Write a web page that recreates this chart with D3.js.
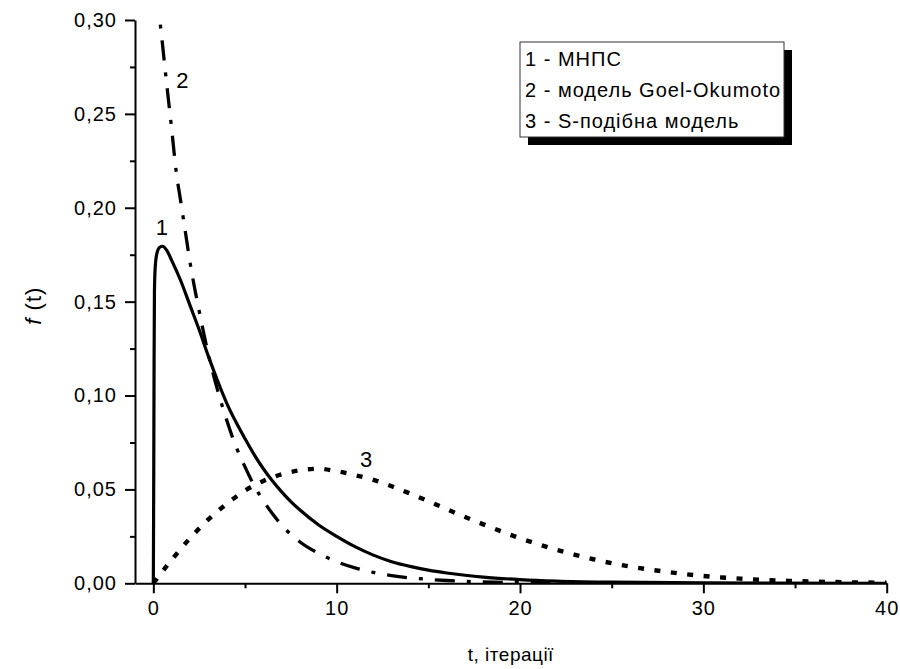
<!DOCTYPE html>
<html>
<head>
<meta charset="utf-8">
<script src="https://cdn.jsdelivr.net/npm/d3@7"></script>
<style>
  body { margin: 0; background: #fff; }
  svg { display: block; font-family: "Liberation Sans", Arial, sans-serif; }
</style>
</head>
<body>
<svg id="chart"></svg>
<script>
// series 1 - МНПС (solid)
const t1 = [0, 0.02, 0.04, 0.06, 0.1, 0.2, 0.35, 0.5, 0.75, 1.0, 1.5, 2.0, 2.5, 3.0, 3.5, 4.0, 4.5, 5.0, 5.5, 6.0, 6.5, 7.0, 7.5, 8.0, 9.0, 10, 11, 12, 13, 14, 15, 16, 17, 18, 20, 22, 25, 30, 40];
const f1 = [0, 0.05, 0.115, 0.155, 0.168, 0.176, 0.179, 0.1795, 0.177, 0.172, 0.161, 0.148, 0.135, 0.121, 0.108, 0.096, 0.086, 0.077, 0.0685, 0.061, 0.0545, 0.0487, 0.0435, 0.039, 0.0312, 0.025, 0.0195, 0.015, 0.0115, 0.009, 0.007, 0.0055, 0.0043, 0.0033, 0.002, 0.0012, 0.0006, 0.0002, 0];

// series 2 - модель Goel-Okumoto (dash-dot)
const t2 = [0, 0.25, 0.5, 0.75, 1.0, 1.25, 1.5, 1.75, 2.0, 2.5, 3.0, 3.5, 4.0, 4.5, 5.0, 5.5, 6.0, 6.5, 7.0, 8.0, 9.0, 10, 11, 12, 13, 14, 15, 16, 18, 20, 22];
const f2 = [0.34, 0.31, 0.287, 0.264, 0.242, 0.219, 0.203, 0.187, 0.171, 0.145, 0.122, 0.103, 0.087, 0.073, 0.062, 0.052, 0.044, 0.037, 0.031, 0.022, 0.016, 0.0115, 0.0082, 0.0058, 0.0041, 0.0029, 0.0021, 0.0015, 0.0007, 0.0004, 0.0002];

// series 3 - S-подібна модель (dotted)
const t3 = [0, 1, 2, 3, 4, 5, 6, 7, 8, 9, 10, 11, 12, 13, 14, 15, 16, 17, 18, 19, 20, 21, 22, 23, 24, 25, 26, 27, 28, 29, 30, 31, 32, 33, 34, 35, 36, 37, 38, 39, 40];
const f3 = [0, 0.0125, 0.024, 0.034, 0.0423, 0.0494, 0.0545, 0.058, 0.0602, 0.061, 0.0597, 0.0576, 0.0551, 0.0517, 0.0478, 0.0437, 0.0395, 0.0353, 0.0314, 0.0276, 0.024, 0.0208, 0.0178, 0.0152, 0.0128, 0.0107, 0.0089, 0.0074, 0.0061, 0.0049, 0.0039, 0.0031, 0.0025, 0.0019, 0.0015, 0.0012, 0.0009, 0.0007, 0.0005, 0.0004, 0.0003];

const xTicks = [0, 10, 20, 30, 40];
const xMinorTicks = [5, 15, 25, 35];
const yTicks = [0, 0.05, 0.10, 0.15, 0.20, 0.25, 0.30];
const yMinorTicks = [0.025, 0.075, 0.125, 0.175, 0.225, 0.275];

const legendItems = ["1 - МНПС", "2 - модель Goel-Okumoto", "3 - S-подібна модель"];

// curve labels: [text, t, f]
const curveLabels = [["1", 0.47, 0.1856], ["2", 1.59, 0.2639], ["3", 11.6, 0.062]];

const width = 900;
const height = 669;
const margin = { top: 20, right: 13.3, bottom: 85.7, left: 135 };
const innerWidth = width - margin.left - margin.right;
const innerHeight = height - margin.top - margin.bottom;

const svg = d3.select("#chart")
  .attr("width", width)
  .attr("height", height);

const g = svg.append("g")
  .attr("transform", `translate(${margin.left},${margin.top})`);

const x = d3.scaleLinear().domain([-1, 40]).range([0, innerWidth]);
const y = d3.scaleLinear().domain([0, 0.30]).range([innerHeight, 0]);

const commaFmt = v => d3.format(".2f")(v).replace(".", ",");

// clip curves to the plot area
svg.append("defs").append("clipPath").attr("id", "plotClip")
  .append("rect")
  .attr("x", 0).attr("y", 0)
  .attr("width", innerWidth).attr("height", innerHeight);

// curves
const line = d3.line()
  .x(d => x(d[0]))
  .y(d => y(d[1]))
  .curve(d3.curveMonotoneX);

const series = [
  { t: t1, f: f1, dash: null, w: 3.2 },
  { t: t2, f: f2, dash: "20,12,4,12", w: 3.3 },
  { t: t3, f: f3, dash: "6,10.5", w: 4.4 }
];

const curves = g.append("g").attr("clip-path", "url(#plotClip)");
series.forEach(s => {
  curves.append("path")
    .datum(s.t.map((t, i) => [t, s.f[i]]))
    .attr("fill", "none")
    .attr("stroke", "#000")
    .attr("stroke-width", s.w)
    .attr("stroke-linecap", "butt")
    .attr("stroke-dasharray", s.dash)
    .attr("d", line);
});

// minor ticks (no labels, no domain line)
g.append("g")
  .attr("transform", `translate(0,${innerHeight})`)
  .call(d3.axisBottom(x).tickValues(xMinorTicks).tickSize(5))
  .call(a => a.selectAll("text, .domain").remove());
g.append("g")
  .call(d3.axisLeft(y).tickValues(yMinorTicks).tickSize(5))
  .call(a => a.selectAll("text, .domain").remove());

// major axes
g.append("g")
  .attr("transform", `translate(0,${innerHeight})`)
  .call(d3.axisBottom(x).tickValues(xTicks).tickSize(10).tickSizeOuter(0).tickPadding(8).tickFormat(d3.format("d")));

g.append("g")
  .call(d3.axisLeft(y).tickValues(yTicks).tickSize(10).tickSizeOuter(0).tickPadding(8).tickFormat(commaFmt));

g.selectAll(".domain, .tick line")
  .attr("stroke", "#000")
  .attr("stroke-width", 2);

g.selectAll(".tick text")
  .attr("fill", "#000")
  .style("font-size", "20px")
  .style("letter-spacing", "1px")
  .style("font-family", "'Liberation Sans', Arial, sans-serif");

// axis titles
svg.append("text")
  .attr("x", margin.left + innerWidth / 2)
  .attr("y", 661)
  .attr("text-anchor", "middle")
  .style("font-size", "19px")
  .style("letter-spacing", "0.5px")
  .text("t, ітерації");

const yTitle = svg.append("text")
  .attr("transform", `translate(41,${margin.top + innerHeight / 2 + 4}) rotate(-90)`)
  .attr("text-anchor", "middle")
  .style("font-size", "22px")
  .style("letter-spacing", "1px");
yTitle.append("tspan").style("font-style", "italic").text("f");
yTitle.append("tspan").text(" (t)");

// curve number labels
g.selectAll(".clabel")
  .data(curveLabels)
  .enter()
  .append("text")
  .attr("class", "clabel")
  .attr("x", d => x(d[1]))
  .attr("y", d => y(d[2]))
  .attr("text-anchor", "middle")
  .style("font-size", "22px")
  .text(d => d[0]);

// legend with drop shadow
const legend = svg.append("g").attr("transform", "translate(520,42)");
legend.append("rect")
  .attr("x", 8).attr("y", 8)
  .attr("width", 264).attr("height", 95)
  .attr("fill", "#000");
legend.append("rect")
  .attr("x", 0).attr("y", 0)
  .attr("width", 264).attr("height", 95)
  .attr("fill", "#fff")
  .attr("stroke", "#333")
  .attr("stroke-width", 1);
legend.selectAll("text")
  .data(legendItems)
  .enter()
  .append("text")
  .attr("x", 5)
  .attr("y", (d, i) => 24 + i * 31)
  .style("font-size", "20px")
  .style("letter-spacing", "1px")
  .text(d => d);
</script>
</body>
</html>
